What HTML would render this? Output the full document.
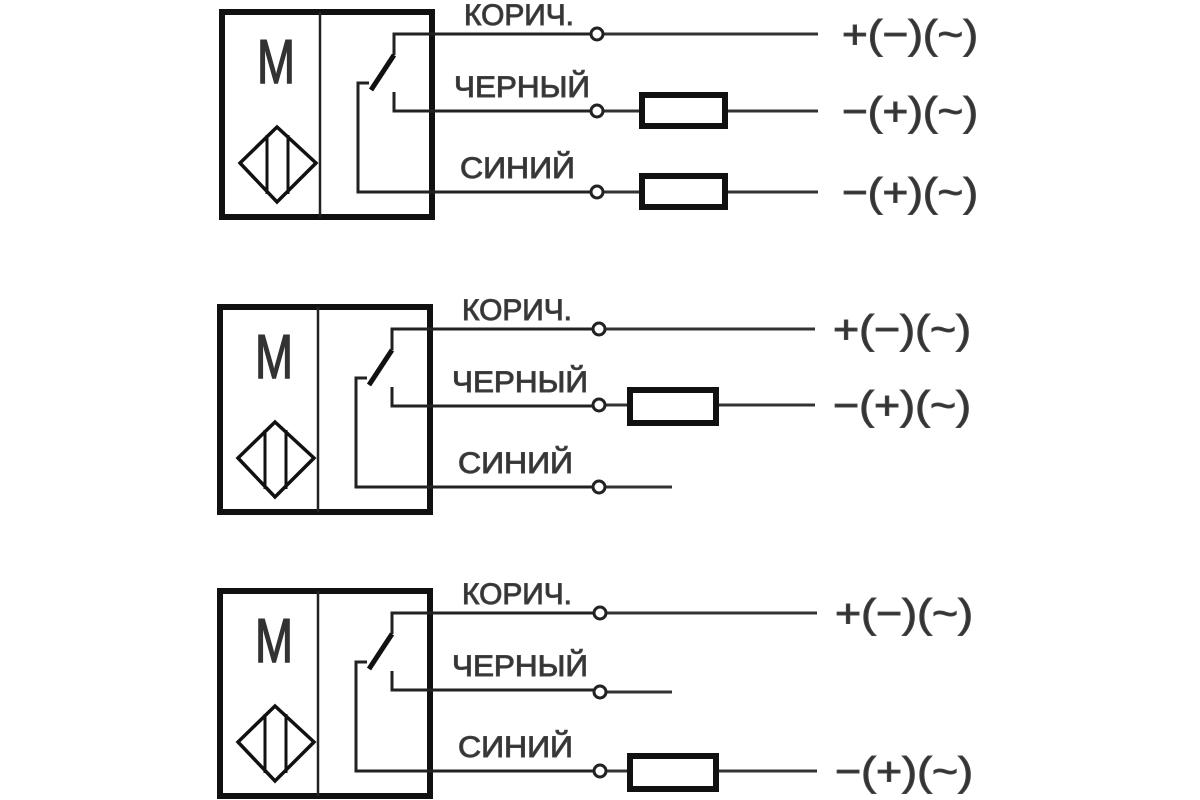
<!DOCTYPE html>
<html><head><meta charset="utf-8"><style>
html,body{margin:0;padding:0;background:#fff;width:1200px;height:800px;overflow:hidden}
text{font-family:"Liberation Sans",sans-serif;fill:#333}
</style></head><body>
<svg width="1200" height="800" viewBox="0 0 1200 800" xmlns="http://www.w3.org/2000/svg">
<defs>
<g id="blk">
  <rect x="220" y="-22" width="210" height="205" fill="none" stroke="#111" stroke-width="6"/>
  <line x1="318" y1="-22" x2="318" y2="183" stroke="#222" stroke-width="2.5"/>
  <text x="255" y="49" font-size="62" textLength="38" lengthAdjust="spacingAndGlyphs" stroke="#333" stroke-width="1.5">M</text>
  <polygon points="275,93 314,129 275,168 238,129" fill="none" stroke="#111" stroke-width="3.5"/>
  <line x1="265" y1="101" x2="265" y2="160" stroke="#111" stroke-width="3"/>
  <line x1="286" y1="101" x2="286" y2="160" stroke="#111" stroke-width="3"/>
  <path d="M597,0 L392,0 L392,21" fill="none" stroke="#222" stroke-width="3"/>
  <line x1="392" y1="21" x2="369" y2="56" stroke="#111" stroke-width="5"/>
  <path d="M367,49 L356,49 L356,158 L597,158" fill="none" stroke="#222" stroke-width="3"/>
  <path d="M392,58 L392,77 L597,77" fill="none" stroke="#222" stroke-width="3"/>
  <g stroke="#444" stroke-width="1">
  <text x="462" y="-9" font-size="30" textLength="110" lengthAdjust="spacingAndGlyphs">КОРИЧ.</text>
  <text x="452" y="63" font-size="30" textLength="136" lengthAdjust="spacingAndGlyphs">ЧЕРНЫЙ</text>
  <text x="458" y="144" font-size="30" textLength="115" lengthAdjust="spacingAndGlyphs">СИНИЙ</text>
  </g>
</g>
</defs>
<g stroke="#333" stroke-width="3" fill="none">
<line x1="597" y1="34" x2="818" y2="34"/>
<line x1="597" y1="111" x2="818" y2="111"/>
<line x1="597" y1="192" x2="818" y2="192"/>
<line x1="598" y1="329" x2="815" y2="329"/>
<line x1="598" y1="405" x2="815" y2="405"/>
<line x1="598" y1="487" x2="672" y2="487"/>
<line x1="598" y1="613" x2="817" y2="613"/>
<line x1="598" y1="692" x2="672" y2="692"/>
<line x1="598" y1="771" x2="817" y2="771"/>
</g>
<use href="#blk" transform="translate(2,34)"/>
<use href="#blk" transform="translate(0,329)"/>
<use href="#blk" transform="translate(0,613)"/>
<g fill="#fff" stroke="#111" stroke-width="6">
<rect x="642" y="95" width="83" height="31"/>
<rect x="642" y="176" width="83" height="31"/>
<rect x="630" y="390" width="86" height="33"/>
<rect x="630" y="756" width="86" height="33"/>
</g>
<g fill="#fff" stroke="#222" stroke-width="3">
<circle cx="597" cy="34" r="6"/><circle cx="597" cy="111" r="6"/><circle cx="597" cy="192" r="6"/>
<circle cx="599" cy="329" r="6"/><circle cx="599" cy="405" r="6"/><circle cx="599" cy="487" r="6"/>
<circle cx="600" cy="613" r="6"/><circle cx="600" cy="692" r="6"/><circle cx="600" cy="771" r="6"/>
</g>
<g font-size="40" stroke="#444" stroke-width="1">
<text x="842" y="48" textLength="136" lengthAdjust="spacingAndGlyphs">+(−)(~)</text>
<text x="842" y="125" textLength="136" lengthAdjust="spacingAndGlyphs">−(+)(~)</text>
<text x="842" y="206" textLength="136" lengthAdjust="spacingAndGlyphs">−(+)(~)</text>
<text x="833" y="343" textLength="138" lengthAdjust="spacingAndGlyphs">+(−)(~)</text>
<text x="833" y="419" textLength="138" lengthAdjust="spacingAndGlyphs">−(+)(~)</text>
<text x="835" y="627" textLength="138" lengthAdjust="spacingAndGlyphs">+(−)(~)</text>
<text x="835" y="785" textLength="138" lengthAdjust="spacingAndGlyphs">−(+)(~)</text>
</g>
</svg>
</body></html>
